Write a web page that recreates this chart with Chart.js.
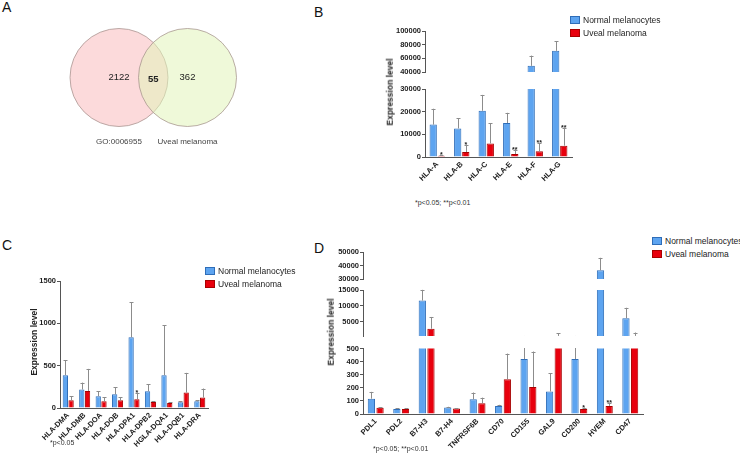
<!DOCTYPE html>
<html>
<head>
<meta charset="utf-8">
<script src="https://cdn.jsdelivr.net/npm/chart.js@4.4.1/dist/chart.umd.min.js"></script>
<style>
  body { margin: 0; background: #fff; }
  #page { position: relative; width: 740px; height: 456px; overflow: hidden; font-family: "Liberation Sans", Arial, sans-serif; color: #222; }
  canvas { position: absolute; }
  .t { position: absolute; white-space: nowrap; line-height: 1; }
  .letter { font-size: 14px; color: #111; }
  .ytitle { font-size: 8.5px; font-weight: bold; transform: translate(-50%, -50%) rotate(-90deg); }
  .note { font-size: 7px; color: #333; transform: translateY(-50%); }
  .key { position: absolute; width: 8px; height: 6px; border: 1px solid; }
  .keytext { font-size: 8.5px; transform: translateY(-50%); }
</style>
</head>
<body>
<div id="page">
  <canvas id="venn"></canvas>
  <canvas id="bTop"></canvas>
  <canvas id="bLow"></canvas>
  <canvas id="cMain"></canvas>
  <canvas id="dTop"></canvas>
  <canvas id="dMid"></canvas>
  <canvas id="dLow"></canvas>

  <div class="t letter" style="left:2px;top:0px">A</div>
  <div class="t letter" style="left:314px;top:5px">B</div>
  <div class="t letter" style="left:2px;top:238px">C</div>
  <div class="t letter" style="left:314px;top:241px">D</div>

  <div class="t ytitle" style="left:390px;top:92px">Expression level</div>
  <div class="t ytitle" style="left:34px;top:342px">Expression level</div>
  <div class="t ytitle" style="left:331px;top:332px">Expression level</div>

  <div class="t note" style="left:415px;top:202px">*p&lt;0.05; **p&lt;0.01</div>
  <div class="t note" style="left:50px;top:442px">*p&lt;0.05</div>
  <div class="t note" style="left:373px;top:448px">*p&lt;0.05; **p&lt;0.01</div>
</div>

<script>
// series
const sampleNames = ['Normal melanocytes', 'Uveal melanoma'];

// A - venn
const vennSets = ['GO:0006955', 'Uveal melanoma'];
const vennOnly = [2122, 362];
const vennBoth = 55;

// B - HLA class I
const classI = ['HLA-A', 'HLA-B', 'HLA-C', 'HLA-E', 'HLA-F', 'HLA-G'];
const normalB = [14300, 12600, 20400, 15000, 49000, 71000];
const normalBErr = [21300, 17000, 27400, 19500, 64000, 85000];
const uvealB = [600, 2200, 6000, 1300, 2500, 5000];
const uvealBErr = [1000, 5200, 14800, 3300, 6000, 12800];
const sigB = ['*', '*', '', '**', '**', '**'];
const ticksBTop = [40000, 60000, 80000, 100000];
const ticksBLow = [0, 10000, 20000, 30000];

// C - HLA class II
const classII = ['HLA-DMA', 'HLA-DMB', 'HLA-DOA', 'HLA-DOB', 'HLA-DPA1', 'HLA-DPB2', 'HGLA-DQA1', 'HLA-DQB1', 'HLA-DRA'];
const normalC = [388, 218, 139, 162, 835, 198, 388, 67, 79];
const normalCErr = [566, 300, 198, 245, 1250, 281, 977, 79, 91];
const uvealC = [91, 202, 79, 91, 103, 71, 59, 182, 123];
const uvealCErr = [139, 462, 127, 127, 174, 79, 67, 415, 230];
const sigC = ['', '', '', '', '*', '', '', '', ''];
const ticksC = [0, 500, 1000, 1500];

// D - checkpoint ligands
const ligands = ['PDL1', 'PDL2', 'B7-H3', 'B7-H4', 'TNFRSF6B', 'CD70', 'CD155', 'GAL9', 'CD200', 'HVEM', 'CD47'];
const normalD = [117, 39, 11700, 49, 112, 62, 419, 172, 419, 36500, 6100];
const normalDErr = [169, 44, 15100, 55, 164, 70, 508, 312, 510, 45700, 9400];
const uvealD = [47, 39, 2800, 42, 83, 266, 206, 520, 39, 62, 520];
const uvealDErr = [52, 42, 6500, 44, 125, 461, 477, 1400, 44, 86, 1600];
const sigD = ['', '', '', '', '', '', '', '', '*', '**', ''];
const ticksDTop = [30000, 40000, 50000];
const ticksDMid = [5000, 10000, 15000];
const ticksDLow = [0, 100, 200, 300, 400, 500];

const FONT = '"Liberation Sans", Arial, sans-serif';
const INK = '#222';
const AXIS = '#555';
const BLUE = '#5da4f0', BLUE_EDGE = '#2e6db8';
const RED = '#e8000d', RED_EDGE = '#a80000';
const ERR = '#8c8c8c';

function setBox(id, box) {
    const cv = document.getElementById(id);
    cv.width = box.w;
    cv.height = box.h;
    cv.style.left = box.x + 'px';
    cv.style.top = box.y + 'px';
    cv.style.width = box.w + 'px';
    cv.style.height = box.h + 'px';
    return cv;
}

// error bars (upwards only) and significance stars
const errorBars = {
    id: 'errorBars',
    afterDatasetsDraw(chart) {
        const { ctx, chartArea: a } = chart;
        const y = chart.scales.y;
        chart.data.datasets.forEach((ds, i) => {
            chart.getDatasetMeta(i).data.forEach((bar, j) => {
                const base = y.getPixelForValue(ds.data[j]);
                const top = y.getPixelForValue(ds.errors[j]);
                const x = Math.round(bar.x) + 0.5;
                const capY = Math.round(top) + 0.5;
                ctx.save();
                ctx.beginPath();
                ctx.rect(a.left, a.top - 0.5, a.right - a.left, a.bottom - a.top + 0.5);
                ctx.clip();
                ctx.strokeStyle = ERR;
                ctx.lineWidth = 1;
                ctx.beginPath();
                ctx.moveTo(x, base);
                ctx.lineTo(x, top);
                ctx.moveTo(x - 2, capY);
                ctx.lineTo(x + 2, capY);
                ctx.stroke();
                ctx.restore();

                const mark = ds.marks && ds.marks[j];
                if (mark && ds.errors[j] >= y.min && ds.errors[j] <= y.max) {
                    ctx.save();
                    ctx.fillStyle = INK;
                    ctx.font = 'bold 7px ' + FONT;
                    ctx.textAlign = 'center';
                    ctx.textBaseline = 'alphabetic';
                    ctx.fillText(mark, bar.x, top + 2);
                    ctx.restore();
                }
            });
        });
    }
};

// one segment of a (possibly broken) bar chart
function barSegment(id, box, area, s) {
    const cv = setBox(id, box);
    const yW = area.l - box.x;
    const xH = box.y + box.h - area.b;
    return new Chart(cv, {
        type: 'bar',
        data: {
            labels: s.labels,
            datasets: [
                { label: sampleNames[0], data: s.normal, errors: s.normalErr,
                  backgroundColor: BLUE, borderColor: BLUE_EDGE, borderWidth: 1,
                  borderSkipped: 'bottom', clip: 0 },
                { label: sampleNames[1], data: s.uveal, errors: s.uvealErr, marks: s.marks,
                  backgroundColor: RED, borderColor: RED_EDGE, borderWidth: 1,
                  borderSkipped: 'bottom', clip: 0 }
            ]
        },
        options: {
            responsive: false,
            animation: false,
            events: [],
            layout: {
                autoPadding: false,
                padding: { left: 0, top: area.t - box.y, right: box.x + box.w - area.r, bottom: s.showX ? 0 : xH }
            },
            datasets: { bar: { categoryPercentage: s.cat, barPercentage: s.bar } },
            plugins: { legend: { display: false }, tooltip: { enabled: false } },
            scales: {
                x: {
                    display: s.showX,
                    grid: { display: false, drawTicks: false },
                    border: { display: true, color: AXIS, width: 1 },
                    ticks: { autoSkip: false, minRotation: 45, maxRotation: 45, padding: 3,
                             color: INK, font: { family: FONT, size: 7.5, weight: 'bold' } },
                    afterFit: sc => { sc.height = xH; }
                },
                y: {
                    min: s.min,
                    max: s.max,
                    afterBuildTicks: sc => { sc.ticks = s.ticks.map(v => ({ value: v })); },
                    grid: { drawOnChartArea: false, drawTicks: true, tickLength: 3, color: AXIS },
                    border: { display: true, color: AXIS, width: 1 },
                    ticks: { padding: 1, color: INK, font: { family: FONT, size: 7.5, weight: 'bold' },
                             callback: v => String(v) },
                    afterFit: sc => { sc.width = yW; }
                }
            }
        },
        plugins: [errorBars]
    });
}

// legend boxes as html
function addLegend(x, y0, step) {
    const page = document.getElementById('page');
    const fills = [[BLUE, BLUE_EDGE], [RED, RED_EDGE]];
    sampleNames.forEach((name, i) => {
        const k = document.createElement('div');
        k.className = 'key';
        k.style.left = x + 'px';
        k.style.top = (y0 + i * step - 4) + 'px';
        k.style.background = fills[i][0];
        k.style.borderColor = fills[i][1];
        page.appendChild(k);
        const t = document.createElement('div');
        t.className = 't keytext';
        t.style.left = (x + 13) + 'px';
        t.style.top = (y0 + i * step) + 'px';
        t.textContent = name;
        page.appendChild(t);
    });
}

function createVenn() {
    const box = { x: 40, y: 10, w: 240, h: 150 };
    const area = { l: 119, r: 187.5, t: 28.5, b: 126.5 };
    const cv = setBox('venn', box);
    const vennText = {
        id: 'vennText',
        afterDatasetsDraw(chart) {
            const { ctx } = chart;
            const pts = chart.getDatasetMeta(0).data;
            ctx.save();
            ctx.fillStyle = '#222';
            ctx.textAlign = 'center';
            ctx.textBaseline = 'middle';
            ctx.font = '9.5px ' + FONT;
            pts.forEach((p, i) => ctx.fillText(String(vennOnly[i]), p.x, p.y));
            ctx.font = 'bold 9.5px ' + FONT;
            ctx.fillText(String(vennBoth), (pts[0].x + pts[1].x) / 2, pts[0].y + 2);
            ctx.restore();
        }
    };
    new Chart(cv, {
        type: 'scatter',
        data: {
            labels: vennSets,
            datasets: [{
                data: vennSets.map(s => ({ x: s, y: 0 })),
                pointRadius: 49,
                backgroundColor: ['rgba(250, 188, 190, 0.55)', 'rgba(226, 244, 186, 0.55)'],
                borderColor: 'rgba(160, 140, 135, 0.7)',
                borderWidth: 1,
                clip: false
            }]
        },
        options: {
            responsive: false,
            animation: false,
            events: [],
            layout: {
                autoPadding: false,
                padding: { left: area.l - box.x, top: area.t - box.y, right: box.x + box.w - area.r, bottom: 0 }
            },
            plugins: { legend: { display: false }, tooltip: { enabled: false } },
            scales: {
                x: {
                    type: 'category',
                    labels: vennSets,
                    offset: false,
                    grid: { display: false, drawTicks: false },
                    border: { display: false },
                    ticks: { padding: 10, color: '#444', maxRotation: 0, font: { family: FONT, size: 8 } },
                    afterFit: sc => { sc.height = box.y + box.h - area.b; }
                },
                y: { display: false, min: -1, max: 1 }
            }
        },
        plugins: [vennText]
    });
}

function createCharts() {
    createVenn();

    // B: broken axis 0-30000 / 40000-100000
    const bCommon = { labels: classI, normal: normalB, normalErr: normalBErr, uveal: uvealB,
                      uvealErr: uvealBErr, marks: sigB, cat: 0.66, bar: 0.9 };
    barSegment('bTop', { x: 380, y: 22, w: 200, h: 60 }, { l: 425, r: 572, t: 31, b: 77 },
        Object.assign({}, bCommon, { min: 40000, max: 100000, ticks: ticksBTop, showX: false }));
    barSegment('bLow', { x: 380, y: 82, w: 200, h: 115 }, { l: 425, r: 572, t: 89, b: 157 },
        Object.assign({}, bCommon, { min: 0, max: 30000, ticks: ticksBLow, showX: true }));

    // C
    barSegment('cMain', { x: 20, y: 270, w: 200, h: 180 }, { l: 60, r: 208, t: 281, b: 408 },
        { labels: classII, normal: normalC, normalErr: normalCErr, uveal: uvealC, uvealErr: uvealCErr,
          marks: sigC, cat: 0.7, bar: 0.92, min: 0, max: 1500, ticks: ticksC, showX: true });

    // D: broken axis 0-500 / 500-15000 / 30000-50000
    const dCommon = { labels: ligands, normal: normalD, normalErr: normalDErr, uveal: uvealD,
                      uvealErr: uvealDErr, marks: sigD, cat: 0.68, bar: 0.84 };
    barSegment('dTop', { x: 330, y: 245, w: 320, h: 48 }, { l: 363, r: 643, t: 252, b: 286 },
        Object.assign({}, dCommon, { min: 30000, max: 50000, ticks: ticksDTop, showX: false }));
    barSegment('dMid', { x: 330, y: 284, w: 320, h: 62 }, { l: 363, r: 643, t: 290, b: 341 },
        Object.assign({}, dCommon, { min: 500, max: 15000, ticks: ticksDMid, showX: false }));
    barSegment('dLow', { x: 330, y: 343, w: 320, h: 105 }, { l: 363, r: 643, t: 348, b: 414 },
        Object.assign({}, dCommon, { min: 0, max: 500, ticks: ticksDLow, showX: true }));

    addLegend(570, 20, 12.5);
    addLegend(205, 271, 13);
    addLegend(652, 241, 12.5);
}

document.addEventListener('DOMContentLoaded', function() {
    if (typeof Chart === 'undefined') {
        console.error('Chart.js não carregou!');
        return;
    }
    createCharts();
});
</script>
</body>
</html>
